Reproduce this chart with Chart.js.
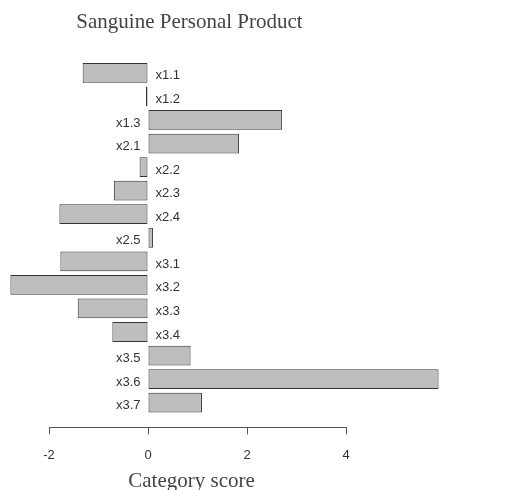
<!DOCTYPE html>
<html>
<head>
<meta charset="utf-8">
<script src="https://cdn.jsdelivr.net/npm/chart.js@4.4.1/dist/chart.umd.min.js"></script>
<style>
  body { margin: 0; background: #fff; }
</style>
</head>
<body>
<canvas id="myChart" width="507" height="490"></canvas>
<script>
let categories = ['x1.1','x1.2','x1.3','x2.1','x2.2','x2.3','x2.4','x2.5','x3.1','x3.2','x3.3','x3.4','x3.5','x3.6','x3.7'];
let scores = [-1.32,-0.04,2.71,1.84,-0.17,-0.69,-1.79,0.10,-1.77,-2.78,-1.42,-0.72,0.86,5.87,1.09];
let xTicks = [-2,0,2,4];
let chartTitle = 'Sanguine Personal Product';
let xTitle = 'Category score';

let ctx = document.getElementById('myChart').getContext('2d');

// one point per row, row index on a linear y axis so the x axis can sit below the last bar
let points = scores.map((v, i) => ({x: v, y: i}));

// labels go on the side of zero opposite to the bar, like the original
const barLabels = {
  id: 'barLabels',
  afterDatasetsDraw(chart) {
    let c = chart.ctx;
    let meta = chart.getDatasetMeta(0);
    c.save();
    c.font = '13px "Liberation Sans", Arial, sans-serif';
    c.fillStyle = '#333';
    c.textBaseline = 'middle';
    meta.data.forEach((bar, i) => {
      if (scores[i] < 0) {
        c.textAlign = 'left';
        c.fillText(categories[i], bar.base + 8, bar.y + 3);
      } else {
        c.textAlign = 'right';
        c.fillText(categories[i], bar.base - 8, bar.y + 3);
      }
    });
    c.restore();
  }
};

// main title and axis title, centred over the plot region of the original
const titles = {
  id: 'titles',
  afterDraw(chart) {
    let c = chart.ctx;
    c.save();
    c.font = '21px "Liberation Serif", "Times New Roman", serif';
    c.fillStyle = '#444';
    c.textAlign = 'center';
    c.textBaseline = 'alphabetic';
    c.fillText(chartTitle, 189.5, 28);
    c.fillText(xTitle, 191.5, 487);
    c.restore();
  }
};

let myChart = new Chart(ctx, {
  type: 'bar',
  data: {
    labels: categories,
    datasets: [{
      label: 'Category score',
      data: points,
      backgroundColor: '#bebebe',
      borderColor: '#333',
      borderWidth: 1,
      borderSkipped: false,
      barPercentage: 0.84,
      categoryPercentage: 1,
      clip: false
    }]
  },
  options: {
    indexAxis: 'y',
    responsive: false,
    animation: false,
    layout: {
      padding: {left: 49, right: 161, top: 54, bottom: 14}
    },
    plugins: {
      legend: {display: false},
      tooltip: {enabled: false}
    },
    scales: {
      x: {
        type: 'linear',
        min: -2,
        max: 4,
        afterBuildTicks: s => { s.ticks = xTicks.map(v => ({value: v})); },
        grid: {
          drawOnChartArea: false,
          drawTicks: true,
          tickLength: 7,
          color: '#555'
        },
        border: {display: true, color: '#555', width: 1},
        ticks: {
          padding: 13,
          color: '#333',
          font: {family: '"Liberation Sans", Arial, sans-serif', size: 13}
        }
      },
      y: {
        type: 'linear',
        reverse: true,
        offset: false,
        min: -0.8,
        max: 15.05,
        afterBuildTicks: s => { s.ticks = categories.map((c, i) => ({value: i})); },
        display: false
      }
    }
  },
  plugins: [barLabels, titles]
});
</script>
</body>
</html>
